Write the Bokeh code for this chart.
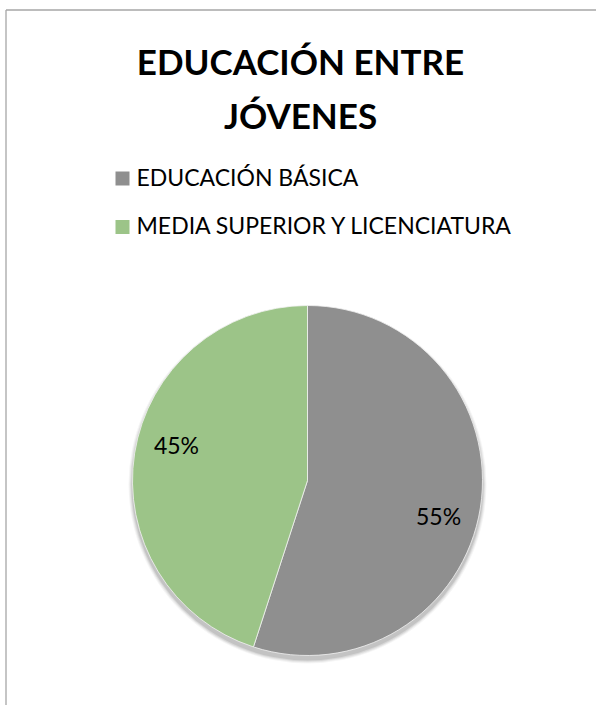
import math
from bokeh.plotting import figure
from bokeh.models import Range1d, ColumnDataSource
from bokeh.core.properties import value
from bokeh.embed import file_html
from bokeh.resources import INLINE

# ---- data ----
title_lines = ["EDUCACIÓN ENTRE", "JÓVENES"]
categories = ["EDUCACIÓN BÁSICA", "MEDIA SUPERIOR Y LICENCIATURA"]
shares = [55, 45]
labels = ["55%", "45%"]
colors = ["#8f8f8f", "#9cc488"]

# ---- layout (pixel coordinates of the page) ----
W, H = 596, 705
OX, OY = 0, 0


def dx(px):
    return px - OX


def dy(py):
    return H - (py - OY)


p = figure(width=W, height=H, output_backend="svg", toolbar_location=None,
           x_range=Range1d(0, W), y_range=Range1d(0, H), min_border=0)
p.axis.visible = False
p.grid.visible = False
p.outline_line_color = None
p.background_fill_color = "white"
p.border_fill_color = "white"

# chart frame (left and top edges visible)
p.segment(x0=[dx(5.5), dx(5.5)], y0=[dy(9.5), dy(9.5)], x1=[dx(5.5), dx(620)], y1=[dy(720), dy(9.5)],
          line_color="#a6a6a6", line_width=1.3)

# title
font = "Lato"
for i, t in enumerate(title_lines):
    p.text(x=[dx(300)], y=[dy(60 + i * 54)], text=[t], text_font=value(font), text_font_style="bold",
           text_font_size="35px", text_align="center", text_baseline="middle", text_color="#000000")

# legend
for i, c in enumerate(categories):
    ly = 178 + i * 48.5
    p.rect(x=[dx(122)], y=[dy(ly)], width=14, height=14, fill_color=colors[i], line_color=None)
    p.text(x=[dx(136)], y=[dy(ly - 2)], text=[c], text_font=value(font), text_font_size="23px",
           text_align="left", text_baseline="middle", text_color="#000000")

# pie
cx, cy, R = dx(307), dy(480), 175
total = float(sum(shares))
starts, ends = [], []
acc = 0.0
for s in shares:
    a0 = math.pi / 2 - 2 * math.pi * acc / total
    acc += s
    a1 = math.pi / 2 - 2 * math.pi * acc / total
    starts.append(a0)
    ends.append(a1)

# soft shadow
for k, al in enumerate([0.04, 0.05, 0.07, 0.09]):
    p.circle(x=[cx], y=[cy - 4], radius=R + 4 - k, fill_color="#000000", fill_alpha=al, line_color=None)

src = ColumnDataSource(dict(start=starts, end=ends, color=colors))
p.wedge(x=cx, y=cy, radius=R, start_angle="start", end_angle="end", direction="clock",
        fill_color="color", line_color="#f2f2f2", line_width=0.8, source=src)

# data labels (best-fit style, slightly rotated clockwise from the slice middle)
shift = math.radians(6)
lx, ly2 = [], []
for a0, a1 in zip(starts, ends):
    m = (a0 + a1) / 2 - shift
    lx.append(cx + 0.775 * R * math.cos(m))
    ly2.append(cy + 0.775 * R * math.sin(m))
p.text(x=lx, y=ly2, text=labels, text_font=value(font), text_font_size="23px",
       text_align="center", text_baseline="middle", text_color="#000000")

open("out.html", "w").write(file_html(p, INLINE))
